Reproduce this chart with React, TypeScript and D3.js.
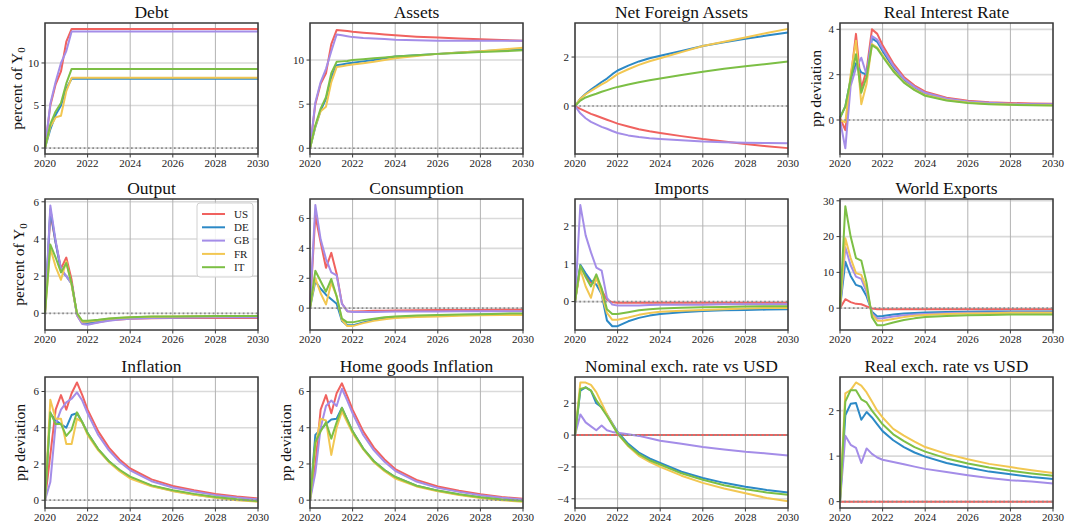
import * as d3 from 'd3';

// quarterly early on, then coarser as the responses settle
const times = [2020, 2020.25, 2020.5, 2020.75, 2021, 2021.25, 2021.5, 2021.75, 2022, 2022.5, 2023, 2023.5, 2024, 2025, 2026, 2027, 2028, 2029, 2030];
const countries = ['US', 'DE', 'GB', 'FR', 'IT'];
const colors = ['#f0625f', '#2c89c6', '#a48de8', '#f2c752', '#7cbf45'];
const yearTicks = [2020, 2022, 2024, 2026, 2028, 2030];

// series order: US, DE, GB, FR, IT
const debt = [
  [0, 5.0, 7.5, 9.0, 12.5, 14.0, 14.0, 14.0, 14.0, 14.0, 14.0, 14.0, 14.0, 14.0, 14.0, 14.0, 14.0, 14.0, 14.0],
  [0, 2.2, 3.9, 5.0, 7.0, 8.15, 8.15, 8.15, 8.15, 8.15, 8.15, 8.15, 8.15, 8.15, 8.15, 8.15, 8.15, 8.15, 8.15],
  [0, 5.2, 7.8, 10.0, 11.4, 13.7, 13.7, 13.7, 13.7, 13.7, 13.7, 13.7, 13.7, 13.7, 13.7, 13.7, 13.7, 13.7, 13.7],
  [0, 2.5, 3.6, 3.8, 6.7, 8.25, 8.25, 8.25, 8.25, 8.25, 8.25, 8.25, 8.25, 8.25, 8.25, 8.25, 8.25, 8.25, 8.25],
  [0, 2.8, 4.3, 5.3, 7.6, 9.3, 9.3, 9.3, 9.3, 9.3, 9.3, 9.3, 9.3, 9.3, 9.3, 9.3, 9.3, 9.3, 9.3],
];
const assets = [
  [0, 5.0, 7.3, 8.5, 11.8, 13.4, 13.35, 13.3, 13.2, 13.1, 13.0, 12.9, 12.8, 12.65, 12.55, 12.45, 12.35, 12.28, 12.2],
  [0, 2.4, 4.3, 5.6, 8.0, 9.4, 9.5, 9.6, 9.7, 9.85, 10.0, 10.2, 10.4, 10.55, 10.7, 10.85, 11.0, 11.1, 11.2],
  [0, 5.2, 7.5, 9.0, 11.0, 12.9, 12.8, 12.7, 12.6, 12.5, 12.45, 12.38, 12.3, 12.25, 12.2, 12.2, 12.2, 12.2, 12.2],
  [0, 2.5, 4.2, 4.7, 7.5, 9.2, 9.3, 9.4, 9.5, 9.65, 9.8, 10.0, 10.2, 10.45, 10.7, 10.85, 11.0, 11.2, 11.4],
  [0, 2.6, 4.5, 5.8, 8.5, 9.8, 9.85, 9.9, 10.0, 10.1, 10.2, 10.3, 10.4, 10.55, 10.7, 10.8, 10.9, 11.0, 11.1],
];
const nfa = [
  [0, -0.12, -0.22, -0.32, -0.4, -0.48, -0.56, -0.64, -0.72, -0.84, -0.95, -1.03, -1.1, -1.23, -1.35, -1.45, -1.55, -1.64, -1.72],
  [0, 0.3, 0.5, 0.67, 0.82, 0.98, 1.12, 1.3, 1.45, 1.65, 1.82, 1.95, 2.05, 2.25, 2.45, 2.6, 2.75, 2.88, 3.0],
  [0, -0.3, -0.5, -0.65, -0.75, -0.85, -0.93, -1.02, -1.1, -1.2, -1.27, -1.32, -1.35, -1.4, -1.45, -1.48, -1.5, -1.51, -1.52],
  [0, 0.3, 0.48, 0.62, 0.75, 0.88, 1.0, 1.15, 1.3, 1.5, 1.68, 1.83, 1.95, 2.2, 2.45, 2.62, 2.8, 2.98, 3.15],
  [0, 0.22, 0.35, 0.43, 0.5, 0.58, 0.65, 0.72, 0.78, 0.88, 0.97, 1.05, 1.12, 1.27, 1.4, 1.52, 1.62, 1.72, 1.82],
];
const realRate = [
  [0.1, -0.45, 1.8, 3.8, 1.4, 2.2, 4.0, 3.8, 3.3, 2.5, 1.9, 1.52, 1.25, 0.98, 0.85, 0.78, 0.75, 0.73, 0.72],
  [0.1, 0.6, 1.8, 2.5, 2.1, 2.0, 3.6, 3.45, 3.05, 2.3, 1.75, 1.4, 1.15, 0.92, 0.8, 0.74, 0.7, 0.68, 0.67],
  [0, -1.25, 1.5, 2.3, 2.75, 2.0, 3.7, 3.55, 3.15, 2.4, 1.82, 1.46, 1.2, 0.95, 0.82, 0.76, 0.72, 0.7, 0.69],
  [0, -0.1, 2.0, 3.5, 0.7, 1.6, 3.35, 3.2, 2.85, 2.2, 1.68, 1.35, 1.1, 0.88, 0.77, 0.71, 0.68, 0.66, 0.65],
  [0.1, 0.6, 1.8, 2.9, 1.2, 1.9, 3.3, 3.15, 2.8, 2.15, 1.65, 1.32, 1.07, 0.86, 0.75, 0.7, 0.67, 0.65, 0.64],
];
const output = [
  [0, 5.4, 3.8, 2.4, 3.0, 1.8, -0.1, -0.55, -0.58, -0.48, -0.38, -0.33, -0.3, -0.27, -0.26, -0.25, -0.25, -0.25, -0.25],
  [0, 5.6, 3.8, 2.3, 2.0, 1.6, -0.05, -0.5, -0.52, -0.43, -0.34, -0.29, -0.26, -0.23, -0.21, -0.2, -0.2, -0.2, -0.2],
  [0, 5.8, 3.9, 2.4, 2.0, 1.6, -0.1, -0.58, -0.62, -0.5, -0.4, -0.34, -0.3, -0.26, -0.24, -0.23, -0.22, -0.22, -0.22],
  [0, 3.5, 2.5, 1.8, 2.8, 1.5, 0.0, -0.45, -0.45, -0.37, -0.3, -0.25, -0.22, -0.19, -0.17, -0.16, -0.16, -0.15, -0.15],
  [0, 3.7, 3.0, 2.2, 2.7, 1.6, 0.0, -0.4, -0.4, -0.35, -0.28, -0.24, -0.21, -0.18, -0.17, -0.16, -0.15, -0.15, -0.15],
];
const consumption = [
  [0, 6.2, 4.4, 2.7, 3.7, 2.3, 0.3, -0.2, -0.22, -0.2, -0.18, -0.17, -0.15, -0.14, -0.12, -0.12, -0.12, -0.11, -0.1],
  [0, 1.8, 1.3, 0.9, 0.6, 0.3, -0.85, -1.15, -1.15, -0.95, -0.8, -0.68, -0.6, -0.54, -0.5, -0.46, -0.43, -0.41, -0.4],
  [0, 6.9, 4.6, 3.3, 2.4, 2.2, 0.3, -0.2, -0.25, -0.25, -0.25, -0.24, -0.23, -0.22, -0.22, -0.21, -0.2, -0.2, -0.2],
  [0, 2.0, 1.0, 0.25, 1.7, 0.8, -0.8, -1.2, -1.2, -1.0, -0.85, -0.74, -0.65, -0.59, -0.55, -0.51, -0.48, -0.46, -0.45],
  [0, 2.5, 1.8, 1.1, 1.95, 0.8, -0.7, -0.95, -0.95, -0.8, -0.7, -0.6, -0.55, -0.49, -0.45, -0.42, -0.4, -0.37, -0.35],
];
const imports = [
  [0, 0.92, 0.7, 0.5, 0.62, 0.3, 0.05, -0.02, -0.03, -0.03, -0.03, -0.03, -0.03, -0.03, -0.03, -0.03, -0.03, -0.03, -0.03],
  [0, 0.97, 0.75, 0.55, 0.45, 0.2, -0.5, -0.65, -0.65, -0.52, -0.43, -0.37, -0.33, -0.28, -0.25, -0.23, -0.22, -0.21, -0.2],
  [0, 2.55, 1.75, 1.3, 0.9, 0.82, 0.1, -0.08, -0.1, -0.1, -0.1, -0.09, -0.08, -0.08, -0.08, -0.07, -0.07, -0.07, -0.07],
  [0, 0.85, 0.4, 0.1, 0.65, 0.2, -0.3, -0.48, -0.48, -0.42, -0.35, -0.3, -0.27, -0.24, -0.22, -0.2, -0.18, -0.17, -0.17],
  [0, 0.95, 0.65, 0.4, 0.72, 0.35, -0.2, -0.33, -0.33, -0.28, -0.23, -0.2, -0.18, -0.16, -0.15, -0.14, -0.13, -0.12, -0.12],
];
const worldExports = [
  [0, 2.5, 1.7, 1.2, 1.1, 0.5, -0.1, -0.3, -0.3, -0.3, -0.3, -0.3, -0.3, -0.3, -0.3, -0.3, -0.3, -0.3, -0.3],
  [0, 13, 9, 6.5, 6.0, 3.3, -1.0, -2.3, -2.2, -1.8, -1.5, -1.33, -1.2, -1.08, -1.0, -0.95, -0.9, -0.9, -0.9],
  [0, 17, 12, 8.8, 8.2, 4.5, -1.5, -2.9, -2.8, -2.3, -2.0, -1.78, -1.6, -1.42, -1.3, -1.25, -1.2, -1.2, -1.2],
  [0, 19.5, 14, 9.8, 9.3, 5.5, -1.8, -3.5, -3.5, -3.0, -2.5, -2.15, -1.9, -1.65, -1.5, -1.4, -1.3, -1.3, -1.3],
  [0, 28.5, 20, 14, 13.3, 7.0, -2.5, -4.8, -4.8, -4.0, -3.3, -2.85, -2.5, -2.2, -2.0, -1.9, -1.8, -1.8, -1.8],
];
const inflation = [
  [0, 2.5, 5.0, 5.8, 5.0, 5.9, 6.5, 5.8, 5.0, 3.8, 2.9, 2.25, 1.75, 1.15, 0.78, 0.55, 0.35, 0.2, 0.1],
  [0, 4.8, 4.4, 4.2, 4.0, 4.7, 4.8, 4.3, 3.7, 2.8, 2.15, 1.65, 1.25, 0.8, 0.52, 0.32, 0.15, 0.03, -0.05],
  [0, 1.0, 4.2, 5.0, 5.4, 5.6, 5.95, 5.5, 4.8, 3.6, 2.75, 2.12, 1.65, 1.05, 0.7, 0.48, 0.28, 0.15, 0.05],
  [0, 5.55, 4.5, 4.5, 3.1, 3.1, 4.5, 4.3, 3.6, 2.75, 2.1, 1.6, 1.2, 0.77, 0.5, 0.3, 0.13, 0.0, -0.08],
  [0, 4.85, 4.2, 4.2, 3.55, 3.9, 4.85, 4.3, 3.7, 2.82, 2.15, 1.68, 1.3, 0.82, 0.55, 0.35, 0.18, 0.05, -0.05],
];
const homeInflation = [
  [0, 2.0, 5.0, 5.8, 4.8, 5.9, 6.45, 5.75, 5.0, 3.8, 2.9, 2.25, 1.72, 1.12, 0.76, 0.52, 0.33, 0.18, 0.08],
  [0, 3.6, 3.9, 4.2, 4.45, 4.5, 5.1, 4.45, 3.8, 2.85, 2.15, 1.66, 1.28, 0.8, 0.52, 0.32, 0.15, 0.03, -0.05],
  [0, 1.5, 4.0, 5.2, 5.5, 5.2, 6.15, 5.5, 4.8, 3.6, 2.75, 2.12, 1.62, 1.03, 0.68, 0.46, 0.27, 0.14, 0.04],
  [0, 3.0, 4.5, 4.4, 2.5, 4.0, 4.9, 4.3, 3.7, 2.8, 2.1, 1.6, 1.2, 0.76, 0.49, 0.29, 0.12, 0.0, -0.08],
  [0, 3.2, 3.8, 4.3, 3.4, 4.3, 5.1, 4.45, 3.8, 2.85, 2.15, 1.66, 1.28, 0.8, 0.53, 0.33, 0.16, 0.04, -0.05],
];
const nominalFx = [
  [0, 0, 0, 0, 0, 0, 0, 0, 0, 0, 0, 0, 0, 0, 0, 0, 0, 0, 0],
  [0, 2.8, 3.0, 2.8, 2.0, 1.75, 1.3, 0.75, 0.2, -0.55, -1.1, -1.47, -1.75, -2.3, -2.7, -3.0, -3.25, -3.45, -3.6],
  [0, 1.3, 0.8, 0.55, 0.3, 0.6, 0.3, 0.2, 0.15, 0.05, -0.05, -0.2, -0.35, -0.55, -0.75, -0.9, -1.05, -1.15, -1.28],
  [0, 3.3, 3.3, 3.15, 2.7, 2.0, 1.3, 0.7, 0.1, -0.7, -1.3, -1.68, -2.0, -2.55, -3.0, -3.35, -3.65, -3.95, -4.15],
  [0, 2.9, 3.0, 2.8, 2.2, 1.7, 1.2, 0.65, 0.1, -0.65, -1.2, -1.58, -1.85, -2.4, -2.8, -3.15, -3.4, -3.6, -3.75],
];
const realFx = [
  [0, 0, 0, 0, 0, 0, 0, 0, 0, 0, 0, 0, 0, 0, 0, 0, 0, 0, 0],
  [0, 1.9, 2.15, 2.17, 1.8, 1.97, 1.85, 1.7, 1.55, 1.35, 1.2, 1.08, 0.99, 0.85, 0.75, 0.66, 0.6, 0.54, 0.5],
  [0, 1.45, 1.25, 1.18, 0.85, 1.17, 1.05, 0.97, 0.92, 0.87, 0.82, 0.77, 0.72, 0.65, 0.58, 0.52, 0.47, 0.44, 0.4],
  [0, 2.38, 2.45, 2.62, 2.55, 2.4, 2.2, 2.0, 1.85, 1.6, 1.45, 1.32, 1.2, 1.05, 0.93, 0.83, 0.76, 0.69, 0.63],
  [0, 2.2, 2.45, 2.45, 2.25, 2.18, 2.0, 1.85, 1.7, 1.48, 1.33, 1.2, 1.1, 0.95, 0.84, 0.75, 0.68, 0.62, 0.57],
];

interface Panel {
  title: string;
  data: number[][];
  domain: [number, number];
  ticks: number[];
  ylabel?: 'pct' | 'pp';
  labelGap?: number;
}

const panels: Panel[] = [
  { title: 'Debt', data: debt, domain: [-0.7, 14.7], ticks: [0, 5, 10], ylabel: 'pct', labelGap: 23 },
  { title: 'Assets', data: assets, domain: [-0.65, 14.2], ticks: [0, 5, 10] },
  { title: 'Net Foreign Assets', data: nfa, domain: [-1.96, 3.39], ticks: [0, 2] },
  { title: 'Real Interest Rate', data: realRate, domain: [-1.5, 4.28], ticks: [0, 2, 4], ylabel: 'pp', labelGap: 19 },
  { title: 'Output', data: output, domain: [-0.9, 6.15], ticks: [0, 2, 4, 6], ylabel: 'pct', labelGap: 21 },
  { title: 'Consumption', data: consumption, domain: [-1.46, 7.3], ticks: [0, 2, 4, 6] },
  { title: 'Imports', data: imports, domain: [-0.75, 2.71], ticks: [0, 1, 2] },
  { title: 'World Exports', data: worldExports, domain: [-6.1, 30.5], ticks: [0, 10, 20, 30] },
  { title: 'Inflation', data: inflation, domain: [-0.43, 6.8], ticks: [0, 2, 4, 6], ylabel: 'pp', labelGap: 20 },
  { title: 'Home goods Inflation', data: homeInflation, domain: [-0.43, 6.8], ticks: [0, 2, 4, 6], ylabel: 'pp', labelGap: 19 },
  { title: 'Nominal exch. rate vs USD', data: nominalFx, domain: [-4.58, 3.65], ticks: [-4, -2, 0, 2] },
  { title: 'Real exch. rate vs USD', data: realFx, domain: [-0.14, 2.74], ticks: [0, 1, 2] },
];

const colLeft = [45, 310, 575, 840];
const rowTop = [23, 199, 377];
const W = 213;
const H = 131;
const font = '"Liberation Serif", "DejaVu Serif", serif';

const fmt = (d: number) => (d < 0 ? '\u2212' + Math.abs(d) : String(d));

const PanelView = ({ p, left, top, legend }: { p: Panel; left: number; top: number; legend: boolean }) => {
  const x = d3.scaleLinear().domain([2020, 2030]).range([0, W]);
  const y = d3.scaleLinear().domain(p.domain).range([H, 0]);
  const line = d3.line<number>().x((_, i) => x(times[i])).y(d => y(d));

  return (
    <g transform={`translate(${left},${top})`}>
      <rect width={W} height={H} fill="#fff" />
      {p.ticks.map(t => (
        <line key={'h' + t} x1={0} x2={W} y1={y(t)} y2={y(t)} stroke="#dadada" strokeWidth={1.6} />
      ))}
      {yearTicks.map(t => (
        <line key={'v' + t} x1={x(t)} x2={x(t)} y1={0} y2={H} stroke="#b2b2b2" strokeWidth={1} />
      ))}
      {p.data.map((s, i) => (
        <path key={i} d={line(s) ?? ''} fill="none" stroke={colors[i]} strokeWidth={2} strokeLinejoin="round" />
      ))}
      <line x1={0} x2={W} y1={y(0)} y2={y(0)} stroke="#8c8c8c" strokeWidth={1.7} strokeDasharray="1.7 2.6" />
      <rect width={W} height={H} fill="none" stroke="#3a3a3a" strokeWidth={1.5} />
      {p.ticks.map(t => (
        <g key={'yt' + t}>
          <line x1={-3.5} x2={0} y1={y(t)} y2={y(t)} stroke="#3a3a3a" strokeWidth={1} />
          <text x={-6} y={y(t)} dy="0.35em" textAnchor="end" fontSize={11} fontFamily={font} fill="#222">
            {fmt(t)}
          </text>
        </g>
      ))}
      {yearTicks.map(t => (
        <g key={'xt' + t}>
          <line x1={x(t)} x2={x(t)} y1={H} y2={H + 3.5} stroke="#3a3a3a" strokeWidth={1} />
          <text x={x(t)} y={H + 13} textAnchor="middle" fontSize={11} fontFamily={font} fill="#222">
            {t}
          </text>
        </g>
      ))}
      <text x={W / 2} y={-5} textAnchor="middle" fontSize={17.5} fontFamily={font} fill="#111">
        {p.title}
      </text>
      {p.ylabel && (
        <text
          transform={`translate(${-(p.labelGap ?? 20)},${H / 2}) rotate(-90)`}
          textAnchor="middle"
          fontSize={15.5}
          fontFamily={font}
          fill="#111"
        >
          {p.ylabel === 'pct' ? (
            <>
              percent of Y<tspan fontSize={11} dy={3}>0</tspan>
            </>
          ) : (
            'pp deviation'
          )}
        </text>
      )}
      {legend && (
        <g transform={`translate(${W - 61},4)`}>
          <rect width={56} height={74} rx={3} fill="#fff" fillOpacity={0.85} stroke="#d0d0d0" strokeWidth={1} />
          {countries.map((c, i) => (
            <g key={c} transform={`translate(0,${11 + i * 13.3})`}>
              <line x1={5} x2={28} y1={0} y2={0} stroke={colors[i]} strokeWidth={2} />
              <text x={37} y={0} dy="0.35em" fontSize={11} fontFamily={font} fill="#222">
                {c}
              </text>
            </g>
          ))}
        </g>
      )}
    </g>
  );
};

export default function App() {
  return (
    <svg width={1066} height={523} style={{ position: 'absolute', left: 0, top: 0, background: '#fff' }}>
      {panels.map((p, i) => (
        <PanelView key={p.title} p={p} left={colLeft[i % 4]} top={rowTop[Math.floor(i / 4)]} legend={i === 4} />
      ))}
    </svg>
  );
}
